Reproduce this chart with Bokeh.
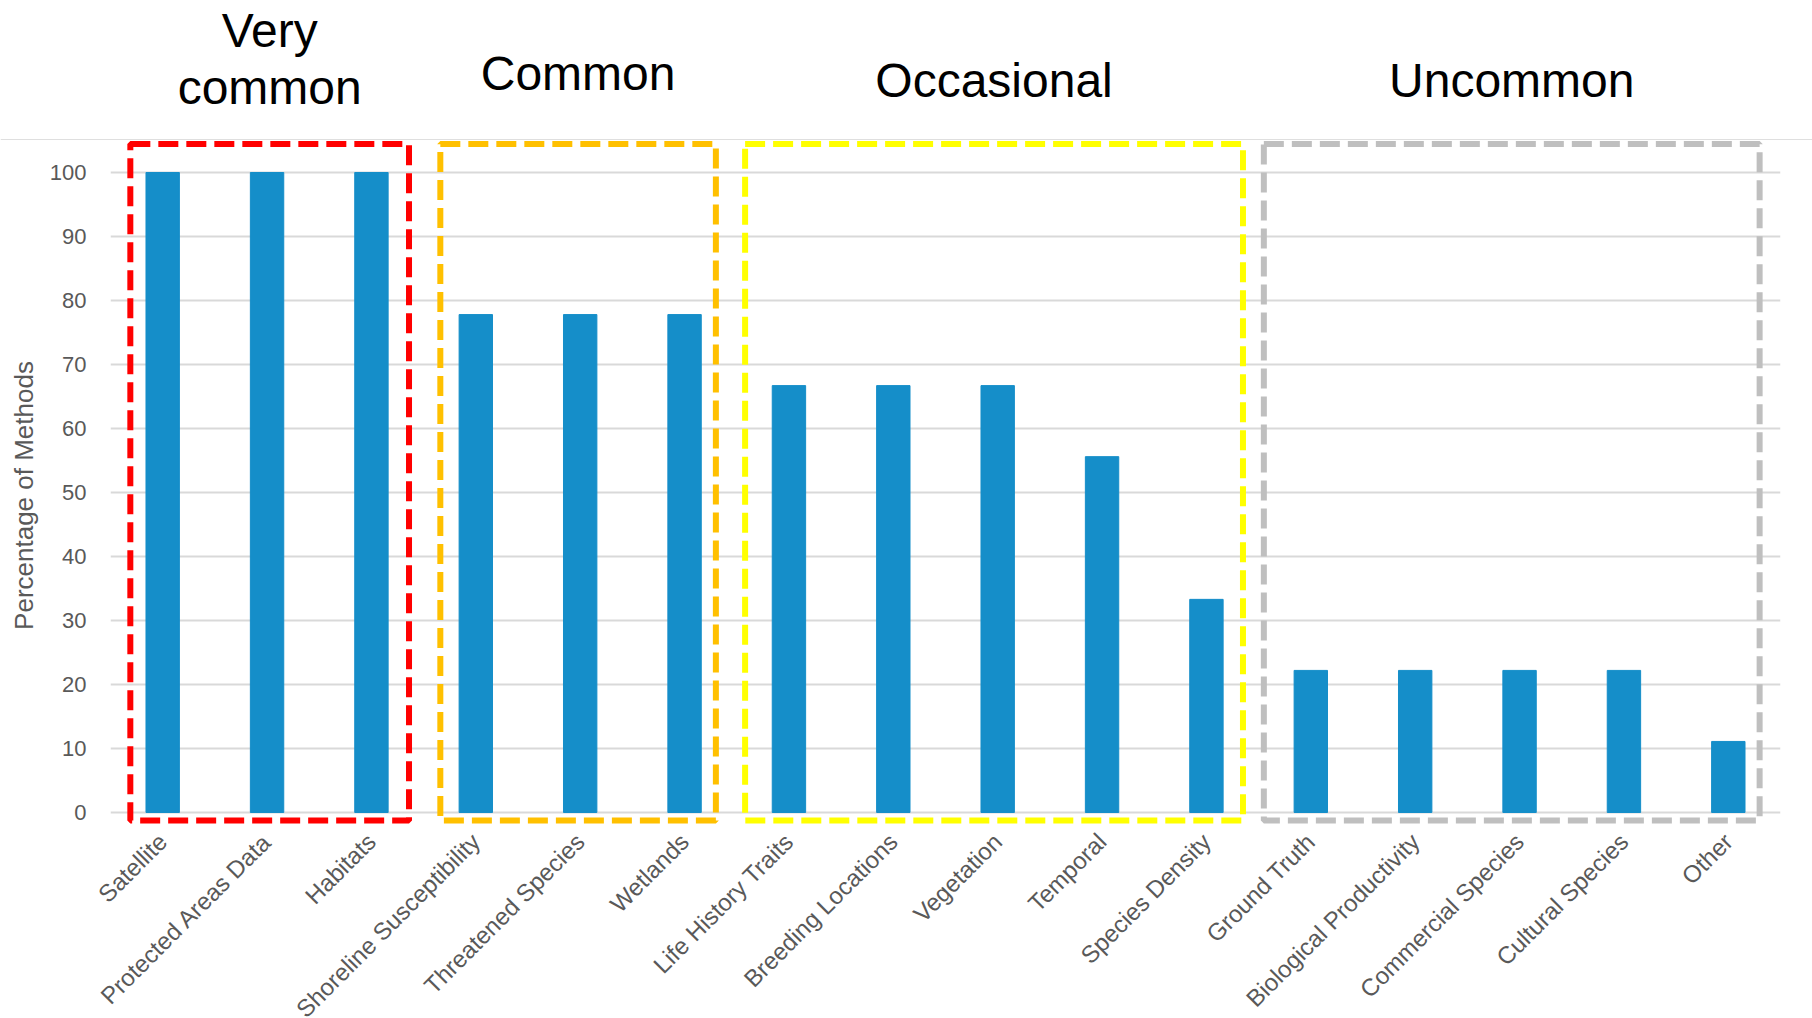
from bokeh.plotting import figure
from bokeh.layouts import column
from bokeh.models import ColumnDataSource, FixedTicker, Range1d, Span
from bokeh.core.properties import value
from bokeh.embed import file_html
from bokeh.resources import INLINE
import math

# ---------------- data ----------------
categories = ["Satellite", "Protected Areas Data", "Habitats",
              "Shoreline Susceptibility", "Threatened Species", "Wetlands",
              "Life History Traits", "Breeding Locations", "Vegetation",
              "Temporal", "Species Density",
              "Ground Truth", "Biological Productivity", "Commercial Species",
              "Cultural Species", "Other"]
percentages = [100, 100, 100, 77.8, 77.8, 77.8, 66.7, 66.7, 66.7, 55.6, 33.3,
               22.2, 22.2, 22.2, 22.2, 11.1]
group_names = ["Very\ncommon", "Common", "Occasional", "Uncommon"]
group_sizes = [3, 3, 5, 5]
y_ticks = [0, 10, 20, 30, 40, 50, 60, 70, 80, 90, 100]
y_label = "Percentage of Methods"

# ---------------- style / layout ----------------
BAR_COLOR = "#158ec9"
GROUP_COLORS = ["#ff0000", "#ffc000", "#ffff00", "#bfbfbf"]
BOX_PAD_LEFT = [0.31, 0.34, 0.42, 0.45]
BOX_PAD_RIGHT = [0.36, 0.30, 0.35, 0.30]
BOX_TOP = 104.45
BOX_BOTTOM = -1.25
FONT = "Liberation Sans"
TXT = "#595959"

W = 1812
TOP_H = 140                      # height of the title strip
TITLE_BOTTOM_PX = [113.5, 99.6, 106.6, 106.6]   # from canvas top
BORDER_L, BORDER_R, BORDER_B = 110, 32, 168
FRAME_W, FRAME_H = W - BORDER_L - BORDER_R, 710

x = list(range(len(categories)))
x_start, x_end = -0.5, len(categories) - 0.5
px_per_unit = FRAME_W / (x_end - x_start)

# ---------------- main chart ----------------
p = figure(frame_width=FRAME_W, frame_height=FRAME_H,
           x_range=Range1d(x_start, x_end),
           y_range=Range1d(-5.94, 105.0),
           output_backend="svg", toolbar_location=None,
           min_border_left=BORDER_L, min_border_right=BORDER_R,
           min_border_top=0, min_border_bottom=BORDER_B)
p.background_fill_color = "white"
p.border_fill_color = "white"
p.outline_line_color = None
p.frame_align = False

p.vbar(x=x, top=percentages, width=0.32, color=BAR_COLOR)

lefts, rights, cols = [], [], []
start = 0
for g, n in enumerate(group_sizes):
    lefts.append(start - BOX_PAD_LEFT[g])
    rights.append(start + n - 1 + BOX_PAD_RIGHT[g])
    cols.append(GROUP_COLORS[g])
    start += n
box_src = ColumnDataSource(dict(left=lefts, right=rights,
                                top=[BOX_TOP] * len(lefts),
                                bottom=[BOX_BOTTOM] * len(lefts),
                                color=cols))
p.quad(left="left", right="right", top="top", bottom="bottom", source=box_src,
       fill_color=None, line_color="color", line_width=6, line_dash="20 8")

p.xaxis.ticker = FixedTicker(ticks=x)
p.xaxis.major_label_overrides = {i: c for i, c in zip(x, categories)}
p.xaxis.major_label_orientation = math.pi / 4
p.xaxis.major_label_text_font = FONT
p.xaxis.major_label_text_font_size = "24px"
p.xaxis.major_label_text_color = TXT
p.xaxis.major_label_standoff = -19
p.xaxis.axis_line_color = None
p.xaxis.major_tick_line_color = None
p.xaxis.minor_tick_line_color = None

p.yaxis.ticker = FixedTicker(ticks=y_ticks)
p.yaxis.axis_label = y_label
p.yaxis.axis_label_text_font = FONT
p.yaxis.axis_label_text_font_size = "26px"
p.yaxis.axis_label_text_font_style = "normal"
p.yaxis.axis_label_text_color = TXT
p.yaxis.axis_label_standoff = 8
p.yaxis.major_label_text_font = FONT
p.yaxis.major_label_text_font_size = "22px"
p.yaxis.major_label_text_color = TXT
p.yaxis.major_label_standoff = 18
p.yaxis.axis_line_color = None
p.yaxis.major_tick_line_color = None
p.yaxis.minor_tick_line_color = None

p.xgrid.grid_line_color = None
p.ygrid.grid_line_color = "#d9d9d9"
p.ygrid.grid_line_width = 2

# ---------------- title strip (same x scale as main chart) ----------------
t = figure(width=W, height=TOP_H,
           x_range=Range1d(x_start - BORDER_L / px_per_unit, x_end + BORDER_R / px_per_unit),
           y_range=Range1d(0, TOP_H),
           output_backend="svg", toolbar_location=None,
           min_border_left=0, min_border_right=0, min_border_top=0, min_border_bottom=0,
           x_axis_location=None, y_axis_location=None)
t.background_fill_color = "white"
t.border_fill_color = "white"
t.outline_line_color = None
t.frame_align = False
t.xgrid.visible = False
t.ygrid.visible = False

title_src = ColumnDataSource(dict(
    x=[(l + r) / 2 for l, r in zip(lefts, rights)],
    y=[TOP_H - b for b in TITLE_BOTTOM_PX],
    text=group_names))
t.text(x="x", y="y", text="text", source=title_src, text_align="center",
       text_baseline="bottom", text_font=value(FONT), text_font_size=value("48px"),
       text_color="black", text_line_height=1.08)
t.add_layout(Span(location=0.5, dimension="width", line_color="#bfbfbf", line_width=1))

layout = column(t, p, spacing=0)
open("out.html", "w").write(file_html(layout, INLINE))
